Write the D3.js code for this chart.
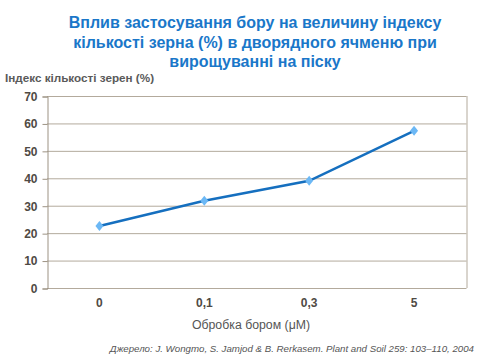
<!DOCTYPE html>
<html><head><meta charset="utf-8">
<script src="https://cdn.jsdelivr.net/npm/d3@7"></script>
<style>body{margin:0;background:#fff}svg{display:block}</style>
</head><body><svg id="c" width="480" height="360"></svg>
<script>
const categories = ["0", "0,1", "0,3", "5"];
const values = [22.6, 31.8, 39.1, 57.3];
const yTicks = [0, 10, 20, 30, 40, 50, 60, 70];
const titleLines = ["Вплив застосування бору на величину індексу", "кількості зерна (%) в дворядного ячменю при", "вирощуванні на піску"];
const yTitle = "Індекс кількості зерен (%)";
const xTitle = "Обробка бором (μM)";
const source = "Джерело: J. Wongmo, S. Jamjod & B. Rerkasem. Plant and Soil 259: 103–110, 2004";

const svg = d3.select("#c");
const L = 47, R = 466.5, T = 96, B = 288;
const x = d3.scaleBand().domain(categories).range([L, R]);
const y = d3.scaleLinear().domain([0, 70]).range([B, T]);
const font = "Arial, 'Liberation Sans', sans-serif";
const gridC = "#b3aa9c";

svg.append("g").selectAll("text").data(titleLines).join("text")
  .attr("x", 255).attr("y", (d, i) => 28 + i * 19.5)
  .attr("text-anchor", "middle").attr("font-family", font)
  .attr("font-weight", "bold").attr("font-size", 16).attr("fill", "#1a77c9").text(d => d);

svg.append("text").attr("x", 5).attr("y", 82).attr("font-family", font)
  .attr("font-weight", "bold").attr("font-size", 11.7).attr("fill", "#5a5a5a").text(yTitle);

// gridlines
svg.append("g").selectAll("line").data(yTicks).join("line")
  .attr("x1", L).attr("x2", R).attr("y1", d => y(d) + 0.5).attr("y2", d => y(d) + 0.5)
  .attr("stroke", gridC).attr("stroke-width", 1);
svg.append("line").attr("x1", R + 0.5).attr("x2", R + 0.5).attr("y1", T).attr("y2", B)
  .attr("stroke", gridC);

const yAxis = d3.axisLeft(y).tickValues(yTicks).tickSize(5).tickPadding(5);
const gy = svg.append("g").attr("transform", `translate(${L + 0.5},0.5)`).call(yAxis);
gy.select(".domain").attr("stroke", "#9c9283");
gy.selectAll(".tick line").attr("stroke", "#9c9283");
gy.selectAll("text").attr("font-family", font).attr("font-weight", "bold")
  .attr("font-size", 12).attr("fill", "#4f4a44");

const xAxis = d3.axisBottom(x).tickSize(0).tickPadding(10);
const gx = svg.append("g").attr("transform", `translate(0,${B + 0.5})`).call(xAxis);
gx.select(".domain").remove();
gx.selectAll("text").attr("font-family", font).attr("font-weight", "bold")
  .attr("font-size", 12).attr("fill", "#4f4a44");

svg.append("text").attr("x", 251).attr("y", 329).attr("text-anchor", "middle")
  .attr("font-family", font).attr("font-size", 12.3).attr("fill", "#555").text(xTitle);

svg.append("text").attr("x", 474).attr("y", 352).attr("text-anchor", "end")
  .attr("font-family", font).attr("font-style", "italic").attr("font-size", 9.7)
  .attr("fill", "#555").text(source);

const line = d3.line().x((d, i) => x(categories[i]) + x.bandwidth() / 2).y(d => y(d));
svg.append("path").datum(values).attr("d", line).attr("fill", "none")
  .attr("stroke", "#156fbf").attr("stroke-width", 2.5);

svg.append("g").selectAll("path").data(values).join("path")
  .attr("transform", (d, i) => `translate(${x(categories[i]) + x.bandwidth() / 2},${y(d)})`)
  .attr("d", "M0,-5L4,0L0,5L-4,0Z").attr("fill", "#6cb8f5");
</script></body></html>
